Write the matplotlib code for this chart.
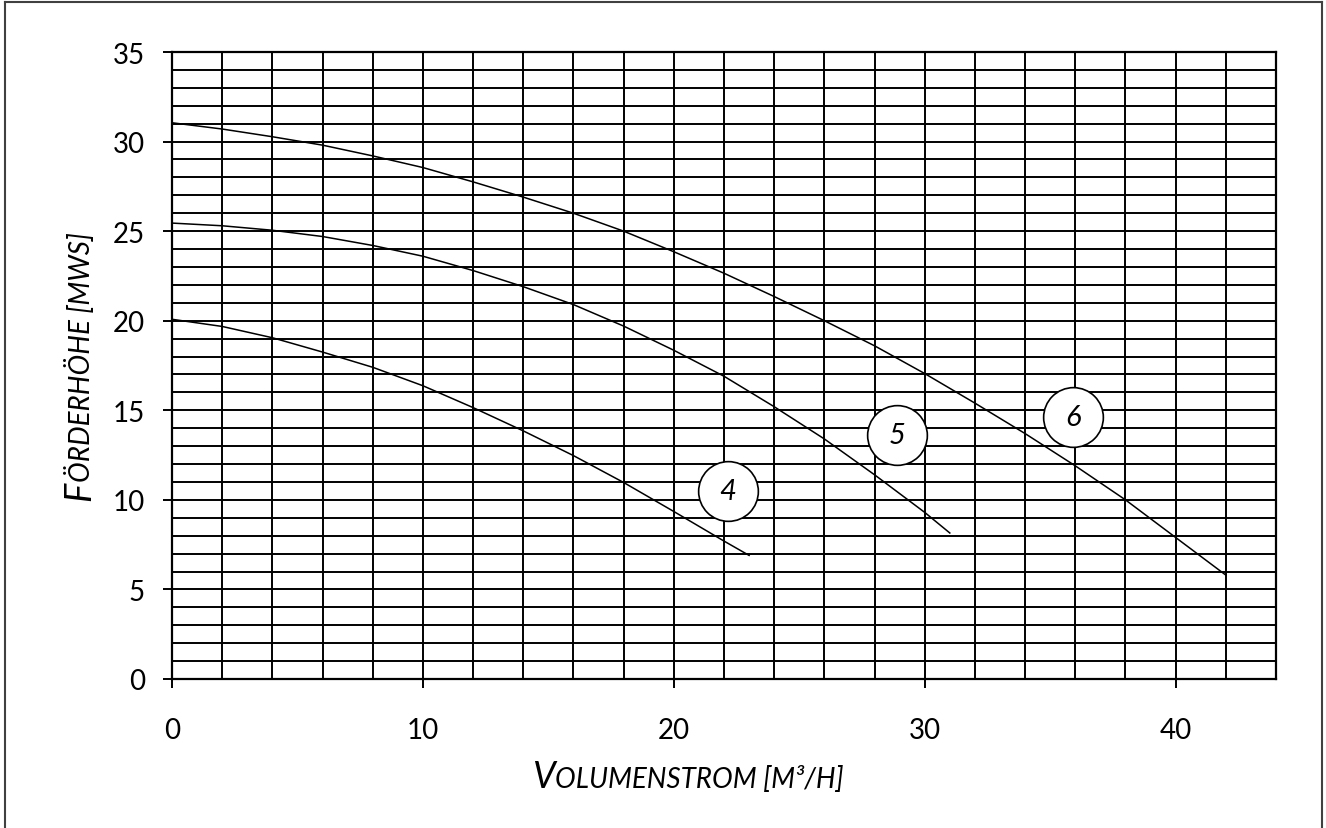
import matplotlib
matplotlib.use('Agg')
import matplotlib.pyplot as plt
from matplotlib.lines import Line2D

# Pumpenkennlinien (Volumenstrom m3/h -> Förderhöhe mWS)
q4 = [0, 2, 4, 6, 8, 10, 12, 14, 16, 18, 20, 22, 23]
h4 = [20.08, 19.68, 19.05, 18.25, 17.4, 16.37, 15.15, 13.85, 12.47, 10.97, 9.35, 7.7, 6.9]

q5 = [0, 2, 4, 6, 8, 10, 12, 14, 16, 18, 20, 22, 24, 26, 28, 30, 31]
h5 = [25.45, 25.3, 25.05, 24.7, 24.2, 23.6, 22.8, 21.9, 20.9, 19.7, 18.35, 16.9,
      15.2, 13.4, 11.4, 9.3, 8.15]

q6 = [0, 2, 4, 6, 8, 10, 12, 14, 16, 18, 20, 22, 24, 26, 28, 30, 32, 34, 36,
      38, 40, 42]
h6 = [31.05, 30.7, 30.27, 29.8, 29.2, 28.55, 27.75, 26.9, 26.0, 25.0, 23.85,
      22.65, 21.35, 20.0, 18.6, 17.05, 15.4, 13.7, 11.9, 10.0, 7.9, 5.8]

curve_names = ['4', '5', '6']
label_q = [22.15, 28.9, 35.9]
label_h = [10.5, 13.6, 14.6]

x_ticks = [0, 10, 20, 30, 40]
y_ticks = [0, 5, 10, 15, 20, 25, 30, 35]

tick_font = 'Lato'
label_font = 'Lato'

fig = plt.figure(figsize=(13.26, 8.29), dpi=100)
ax = fig.add_axes([172 / 1326, 1 - 680 / 829, (1276 - 172) / 1326, (680 - 53) / 829])

ax.set_xlim(0, 44)
ax.set_ylim(0, 35)
ax.set_xticks(x_ticks)
ax.set_yticks(y_ticks)
ax.set_xticks(range(0, 45, 2), minor=True)
ax.set_yticks(range(0, 36), minor=True)
ax.grid(True, which='both', color='black', linewidth=1.4)
ax.set_axisbelow(True)
for s in ax.spines.values():
    s.set_linewidth(1.6)
ax.tick_params(which='major', direction='out', length=6.5, width=1.4)
ax.tick_params(which='minor', length=0)
ax.tick_params(axis='y', pad=13)
ax.tick_params(axis='x', pad=21)
for t in ax.get_xticklabels() + ax.get_yticklabels():
    t.set_fontfamily(tick_font)
    t.set_fontsize(20)

for q, h in [(q4, h4), (q5, h5), (q6, h6)]:
    ax.plot(q, h, color='black', linewidth=1.1, zorder=3)

for name, q, h in zip(curve_names, label_q, label_h):
    ax.plot(q, h, marker='o', markersize=43, markerfacecolor='white',
            markeredgecolor='black', markeredgewidth=1.2, zorder=4)
    ax.text(q, h, name, ha='center', va='center', fontsize=21,
            style='italic', family=label_font, zorder=5)

# Achsentitel in Kapitälchen
renderer = fig.canvas.get_renderer()
W, H = fig.bbox.width, fig.bbox.height


def smallcaps(cx, cy, parts, rot=0):
    texts = [fig.text(0, 0, s, fontsize=fs, style='italic', family=label_font,
                      ha='left', va='baseline') for s, fs in parts]
    widths = [t.get_window_extent(renderer).width for t in texts]
    pos = -sum(widths) / 2
    for t, w in zip(texts, widths):
        if rot == 0:
            t.set_position((cx + pos / W, cy))
        else:
            t.set_rotation(90)
            t.set_rotation_mode('anchor')
            t.set_position((cx, cy + pos / H))
        pos += w


smallcaps(688 / 1326, 1 - 788 / 829, [('V', 26), ('OLUMENSTROM [M³/H]', 20)])
smallcaps(90 / 1326, 1 - 367 / 829, [('F', 26), ('ÖRDERHÖHE [MWS]', 20)], rot=90)

# Rahmen
for xs, ys in [([5 / 1326, 5 / 1326], [0, 1 - 3 / 829]),
               ([5 / 1326, 1322 / 1326], [1 - 3 / 829, 1 - 3 / 829]),
               ([1322 / 1326, 1322 / 1326], [1 - 3 / 829, 0])]:
    fig.add_artist(Line2D(xs, ys, color='#404040', linewidth=1.5,
                          transform=fig.transFigure))

fig.savefig('out.png', dpi=100)
